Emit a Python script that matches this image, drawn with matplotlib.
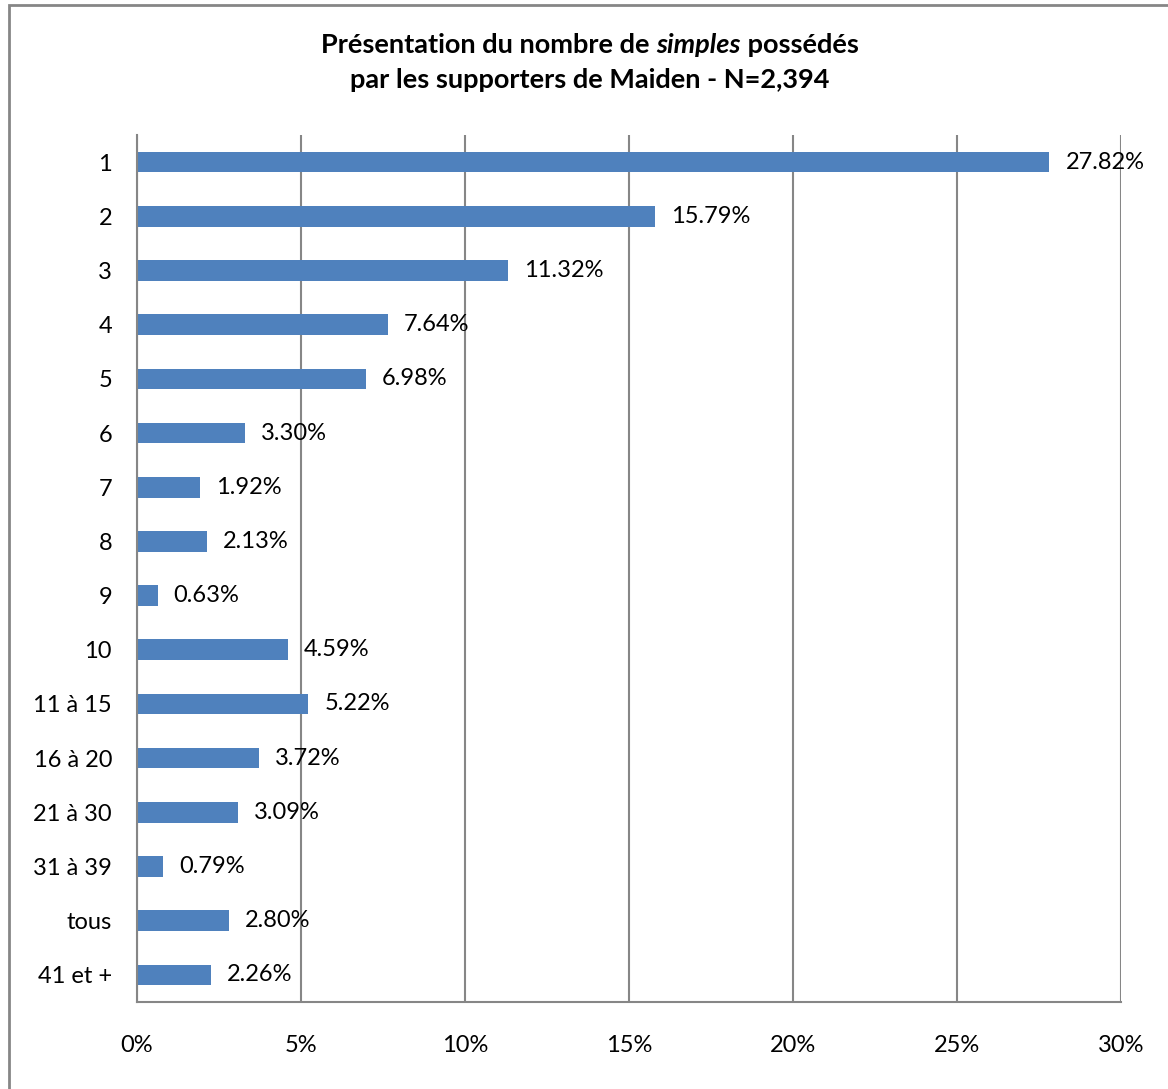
import matplotlib
matplotlib.use('Agg')
from matplotlib import pyplot as plt
from matplotlib.patches import Rectangle

plt.rcParams['font.family'] = ['Lato', 'DejaVu Sans']

categories = ['1', '2', '3', '4', '5', '6', '7', '8', '9', '10',
              '11 à 15', '16 à 20', '21 à 30', '31 à 39', 'tous', '41 et +']
values = [27.82, 15.79, 11.32, 7.64, 6.98, 3.30, 1.92, 2.13, 0.63, 4.59,
          5.22, 3.72, 3.09, 0.79, 2.80, 2.26]
xticks = [0, 5, 10, 15, 20, 25, 30]

W, H = 1168, 1089
fig = plt.figure(figsize=(W / 100, H / 100), dpi=100)

# outer chart border (clipped at right/bottom like the screenshot)
fig.patches.append(Rectangle((9 / W, -0.1), 1.2, 1 - 5 / H + 0.1,
                             transform=fig.transFigure, fill=False,
                             edgecolor='#868686', linewidth=2))

ax = fig.add_axes([137 / W, 1 - 1002 / H, (1121 - 137) / W, (1002 - 135) / H])
y = range(len(categories))
ax.barh(y, values, height=0.38, color='#4F81BD')
ax.set_ylim(len(categories) - 0.5, -0.5)
ax.set_xlim(0, 30)
ax.set_yticks(list(y))
ax.set_yticklabels(categories)
ax.set_xticks(xticks)
ax.set_xticklabels([f'{t}%' for t in xticks])
ax.tick_params(axis='both', length=0, labelsize=17)
ax.tick_params(axis='y', pad=18)
ax.tick_params(axis='x', pad=24)
ax.grid(axis='x', color='#868686', linewidth=1.5)
ax.set_axisbelow(True)
for side in ['top', 'right']:
    ax.spines[side].set_visible(False)
for side in ['left', 'bottom']:
    ax.spines[side].set_color('#868686')
    ax.spines[side].set_linewidth(1.5)

for i, v in enumerate(values):
    ax.annotate(f'{v:.2f}%', (v, i), xytext=(11.5, 0), textcoords='offset points',
                va='center', ha='left', fontsize=17)

# title with italic word
line1 = [('Présentation du nombre de ', 'normal'), ('simples', 'italic'), (' possédés', 'normal')]
fig.canvas.draw()
r = fig.canvas.get_renderer()
pieces = []
for s, st in line1:
    t = fig.text(0, 1 - 45 / H, s, fontsize=19.5, fontweight='bold', style=st,
                 va='center', ha='left')
    pieces.append(t)
widths = [p.get_window_extent(r).width for p in pieces]
x0 = 590 - sum(widths) / 2
for p, w in zip(pieces, widths):
    p.set_x(x0 / W)
    x0 += w
fig.text(590 / W, 1 - 80 / H, 'par les supporters de Maiden - N=2,394', fontsize=19.5,
         fontweight='bold', ha='center', va='center')

fig.savefig('out.png', dpi=100)
